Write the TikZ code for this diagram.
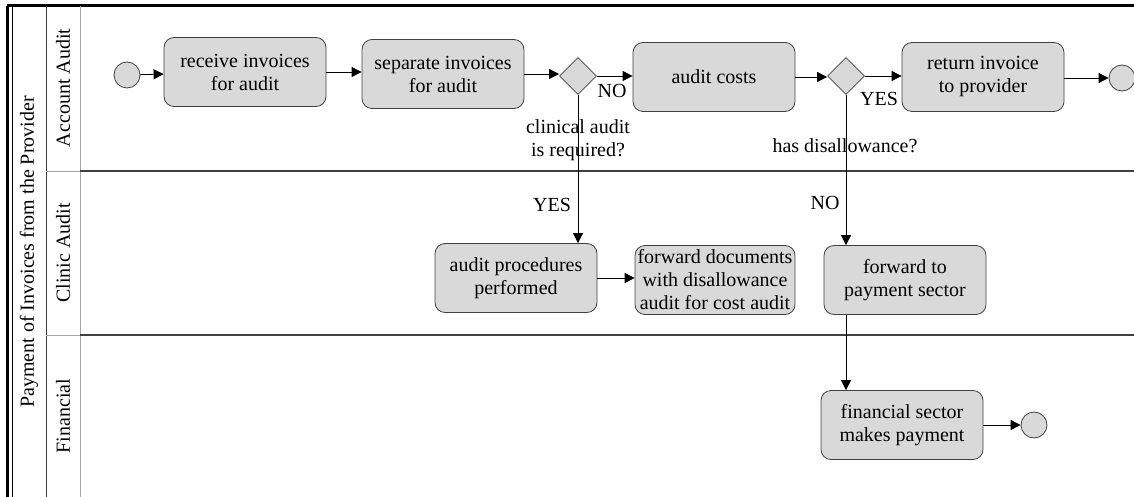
\documentclass[tikz,border=0pt]{standalone}
\usepackage{fontspec}
\setmainfont{Liberation Serif}
\usepackage{tikz}
\usetikzlibrary{shapes.geometric,arrows.meta}

\definecolor{boxgray}{HTML}{D9D9D9}
\definecolor{edgegray}{HTML}{404040}

\tikzset{
  task/.style={draw=edgegray, fill=boxgray, rounded corners=5pt, align=center,
    minimum width=81pt, minimum height=34.5pt, inner sep=1pt,
    font=\fontsize{10}{11.5}\selectfont},
  event/.style={draw=edgegray, fill=boxgray, circle, minimum size=13pt, inner sep=0pt},
  gate/.style={draw=edgegray, fill=boxgray, diamond, minimum width=18.5pt,
    minimum height=18.5pt, inner sep=0pt},
  flow/.style={-{Triangle[length=5pt,width=5pt]}, draw=black, thin},
  lbl/.style={font=\fontsize{10}{11.5}\selectfont, align=center, inner sep=0pt}
}

\begin{document}
\begin{tikzpicture}[x=0.5pt, y=-0.5pt]  % one unit is one pixel of the reference
    \useasboundingbox (0,0) rectangle (1134,497);

    % Pool and lanes
    \draw[line width=1.5pt] (7,6) -- (1134,6);
    \draw[line width=1.5pt] (7,6) -- (7,497);
    \draw[thin] (12,6) -- (12,497);
    \draw[thin, edgegray] (46,6) -- (46,497);
    \draw[thin, gray!70] (80,6) -- (80,497);
    \foreach \y in {171, 335} {
        \draw[line width=0.8pt, edgegray] (80,\y) -- (1134,\y); % lane boundary
        \draw[thin, gray!70] (46,\y) -- (80,\y);
    }

    % Pool and lane titles
    \node[lbl, rotate=90] (pool) at (29,252) {Payment of Invoices from the Provider};
    \node[lbl, rotate=90] (lane1) at (63,88) {Account Audit};
    \node[lbl, rotate=90] (lane2) at (63,253) {Clinic Audit};
    \node[lbl, rotate=90] (lane3) at (63,416) {Financial};

    % Account Audit lane
    \node[event] (start) at (127,75) {};
    \node[task] (receive) at (245,72) {receive invoices\\for audit};
    \node[task] (separate) at (443,74) {separate invoices\\for audit};
    \node[gate] (clinical) at (578,76) {};
    \node[task] (costs) at (714,77) {audit costs};
    \node[gate] (disallow) at (846,76) {};
    \node[task] (return) at (983,77) {return invoice\\to provider};
    \node[event] (stop1) at (1122,78) {};

    % Clinic Audit lane
    \node[task] (procedures) at (516,278) {audit procedures\\performed};
    \node[task, minimum width=80pt] (forward) at (715,280) {forward documents\\with disallowance\\audit for cost audit};
    \node[task] (topay) at (905,280) {forward to\\payment sector};

    % Financial lane
    \node[task] (payment) at (902,425) {financial sector\\makes payment};
    \node[event] (stop2) at (1034,425) {};

    % Questions at the gateways
    \node[lbl] (q1) at (578,140) {clinical audit\\is required?};
    \node[lbl] (q2) at (845,146) {has disallowance?};

    % Sequence flows
    \draw[flow] (start) -- (receive);
    \draw[flow] (receive) -- (receive -| separate.west);
    \draw[flow] (separate) -- (separate -| clinical.west);
    \draw[flow] (clinical.east) -- (clinical.east -| costs.west);
    \node[lbl] (no1) at (612,91) {NO};
    \draw[flow] (costs) -- (costs -| disallow.west);
    \draw[flow] (disallow.east) -- (disallow.east -| return.west);
    \node[lbl] (yes2) at (879,99) {YES};
    \draw[flow] (return.east |- stop1) -- (stop1);
    \draw[flow] (clinical.south) -- (clinical.south |- procedures.north);
    \node[lbl] (yes1) at (552,205) {YES};
    \draw[flow] (procedures) -- (procedures -| forward.west);
    \draw[flow] (disallow.south) -- (disallow.south |- topay.north);
    \node[lbl] (no2) at (825,203) {NO};
    \draw[flow] (topay.south -| disallow.south) -- (payment.north -| disallow.south);
    \draw[flow] (payment) -- (stop2);

\end{tikzpicture}
\end{document}
